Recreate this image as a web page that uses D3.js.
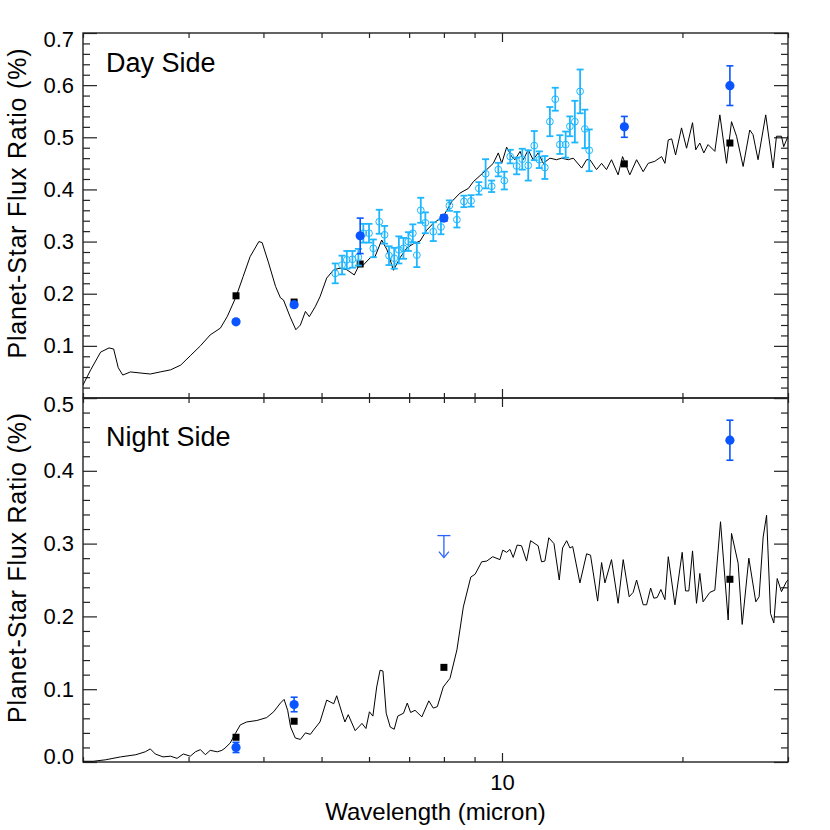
<!DOCTYPE html>
<html><head><meta charset="utf-8">
<script src="https://cdn.jsdelivr.net/npm/d3@7"></script>
<style>
body{margin:0;background:#fff}
svg{display:block;font-family:"Liberation Sans",Arial,Helvetica,sans-serif}
</style>
</head><body>
<svg id="c" width="830" height="830"></svg>
<script>
// ---------------- data ----------------
const xDomain = [2, 30];
const xMajorTicks = [10];
const xMinorTicks = [2, 3, 4, 5, 6, 7, 8, 9, 20, 30];
const xTickLabels = ["10"];

const dayYDomain = [0, 0.7];
const dayYMajor = [0, 0.1, 0.2, 0.3, 0.4, 0.5, 0.6, 0.7];
const dayYLabels = ["0.1", "0.2", "0.3", "0.4", "0.5", "0.6", "0.7"];
const nightYDomain = [0, 0.5];
const nightYMajor = [0, 0.1, 0.2, 0.3, 0.4, 0.5];
const nightYLabels = ["0.0", "0.1", "0.2", "0.3", "0.4", "0.5"];

// model spectrum, day side [wavelength micron, flux ratio %]
const dayModel = [
[2.00,0.025],[2.06,0.054],[2.14,0.088],[2.21,0.096],[2.25,0.094],[2.29,0.058],[2.33,0.044],[2.40,0.050],[2.49,0.048],[2.59,0.046],[2.69,0.050],[2.80,0.054],[2.91,0.063],[3.02,0.081],[3.14,0.100],[3.26,0.121],[3.39,0.134],[3.48,0.156],[3.60,0.194],[3.70,0.233],[3.80,0.271],[3.93,0.300],[3.98,0.298],[4.08,0.259],[4.19,0.214],[4.27,0.192],[4.32,0.188],[4.43,0.156],[4.53,0.131],[4.61,0.140],[4.70,0.166],[4.77,0.156],[4.88,0.175],[4.97,0.194],[5.10,0.230],[5.24,0.246],[5.37,0.249],[5.51,0.246],[5.67,0.236],[5.76,0.252],[5.87,0.255],[6.03,0.269],[6.14,0.271],[6.30,0.303],[6.43,0.284],[6.59,0.245],[6.76,0.269],[6.94,0.288],[7.12,0.296],[7.30,0.301],[7.49,0.322],[7.68,0.335],[7.98,0.348],[8.25,0.377],[8.51,0.393],[8.79,0.402],[8.96,0.415],[9.43,0.438],[9.67,0.450],[9.86,0.470],[9.99,0.450],[10.18,0.481],[10.38,0.463],[10.51,0.457],[10.72,0.473],[10.85,0.457],[11.06,0.476],[11.27,0.457],[11.49,0.470],[11.72,0.450],[12.02,0.460],[12.33,0.457],[12.57,0.460],[12.90,0.457],[13.15,0.460],[13.58,0.441],[13.84,0.457],[14.02,0.457],[14.38,0.438],[14.66,0.450],[14.94,0.438],[15.23,0.457],[15.62,0.428],[15.89,0.463],[16.34,0.428],[16.77,0.457],[17.20,0.434],[17.53,0.450],[17.99,0.454],[18.46,0.463],[18.70,0.450],[18.94,0.495],[19.19,0.497],[19.48,0.466],[19.93,0.518],[20.32,0.479],[20.79,0.528],[21.05,0.476],[21.38,0.489],[21.71,0.470],[22.07,0.486],[22.65,0.473],[23.09,0.543],[23.69,0.450],[24.15,0.530],[24.62,0.502],[25.25,0.444],[25.90,0.514],[26.23,0.505],[26.74,0.457],[27.54,0.543],[28.33,0.441],[28.70,0.502],[29.26,0.502],[29.51,0.482],[30.0,0.502]
];

// model spectrum, night side
const nightModel = [
[2.00,0.001],[2.08,0.001],[2.18,0.003],[2.31,0.007],[2.45,0.010],[2.54,0.014],[2.59,0.018],[2.64,0.011],[2.72,0.007],[2.80,0.008],[2.87,0.005],[2.94,0.011],[3.02,0.008],[3.08,0.014],[3.14,0.017],[3.20,0.010],[3.26,0.016],[3.35,0.014],[3.41,0.016],[3.45,0.019],[3.52,0.026],[3.59,0.039],[3.66,0.051],[3.75,0.055],[3.90,0.057],[4.05,0.061],[4.16,0.069],[4.27,0.081],[4.33,0.086],[4.39,0.071],[4.44,0.048],[4.52,0.033],[4.61,0.031],[4.70,0.040],[4.79,0.038],[4.85,0.044],[4.97,0.055],[5.10,0.085],[5.24,0.080],[5.30,0.091],[5.41,0.067],[5.47,0.055],[5.54,0.065],[5.69,0.043],[5.84,0.053],[5.93,0.046],[6.01,0.069],[6.09,0.063],[6.18,0.103],[6.26,0.126],[6.33,0.125],[6.41,0.067],[6.51,0.048],[6.61,0.045],[6.70,0.063],[6.85,0.067],[6.95,0.081],[7.04,0.068],[7.16,0.071],[7.35,0.062],[7.55,0.084],[7.68,0.074],[7.80,0.076],[7.98,0.103],[8.19,0.115],[8.41,0.154],[8.62,0.213],[8.87,0.254],[9.02,0.258],[9.25,0.275],[9.43,0.276],[9.65,0.282],[9.92,0.278],[10.03,0.291],[10.18,0.288],[10.31,0.292],[10.44,0.281],[10.60,0.298],[10.78,0.297],[10.99,0.276],[11.16,0.304],[11.49,0.297],[11.64,0.275],[11.79,0.276],[11.97,0.308],[12.21,0.300],[12.46,0.250],[12.62,0.294],[12.82,0.304],[12.98,0.294],[13.12,0.296],[13.49,0.246],[13.84,0.286],[14.05,0.284],[14.44,0.221],[14.66,0.274],[14.85,0.246],[15.23,0.278],[15.62,0.218],[15.93,0.278],[16.30,0.227],[16.55,0.233],[16.77,0.250],[17.20,0.216],[17.43,0.216],[17.70,0.239],[17.92,0.225],[18.15,0.226],[18.41,0.237],[18.70,0.223],[18.94,0.282],[19.43,0.216],[19.98,0.288],[20.24,0.235],[20.50,0.235],[20.79,0.290],[21.11,0.218],[21.38,0.259],[21.65,0.220],[22.22,0.233],[22.65,0.236],[23.15,0.330],[23.84,0.195],[24.15,0.314],[24.77,0.273],[25.16,0.189],[25.81,0.280],[26.51,0.220],[26.85,0.227],[27.27,0.309],[27.63,0.339],[28.05,0.204],[28.41,0.191],[28.78,0.252],[29.26,0.234],[29.83,0.248],[30.0,0.250]
];

// IRS spectrum (day side)
const irsWl  = [5.27,5.41,5.51,5.63,5.76,5.87,6.00,6.10,6.24,6.37,6.48,6.61,6.73,6.85,6.98,7.10,7.21,7.32,7.45,7.68,7.91,8.17,8.41,8.64,8.88,9.15,9.39,9.61,9.86,10.09,10.32,10.58,10.81,11.06,11.32,11.54,11.79,12.02,12.27,12.49,12.77,12.98,13.23,13.50,13.75,13.98];
const irsVal = [0.239,0.255,0.265,0.266,0.270,0.316,0.316,0.287,0.338,0.313,0.273,0.268,0.284,0.287,0.300,0.316,0.274,0.360,0.336,0.319,0.328,0.369,0.342,0.377,0.378,0.402,0.430,0.406,0.438,0.417,0.463,0.445,0.458,0.446,0.484,0.457,0.442,0.530,0.573,0.486,0.486,0.521,0.530,0.588,0.516,0.475];
const irsErr = [0.019,0.018,0.017,0.016,0.016,0.018,0.018,0.017,0.023,0.017,0.018,0.020,0.026,0.020,0.018,0.017,0.023,0.024,0.020,0.018,0.014,0.010,0.015,0.011,0.011,0.012,0.028,0.011,0.013,0.017,0.013,0.016,0.020,0.029,0.028,0.016,0.022,0.028,0.022,0.018,0.025,0.019,0.040,0.042,0.037,0.040];

// photometry, day side
const dayObsWl  = [3.6, 4.5, 5.8, 8.0, 16, 24];
const dayObsVal = [0.146, 0.179, 0.311, 0.345, 0.520, 0.599];
const dayObsErr = [0.003, 0.004, 0.034, 0.006, 0.020, 0.038];
const dayBandWl  = [3.6, 4.5, 5.8, 8.0, 16, 24];
const dayBandVal = [0.196, 0.184, 0.257, 0.345, 0.449, 0.489];

// photometry, night side
const nightObsWl  = [3.6, 4.5, 24];
const nightObsVal = [0.020, 0.079, 0.442];
const nightObsErr = [0.007, 0.010, 0.0275];
const nightBandWl  = [3.6, 4.5, 8.0, 24];
const nightBandVal = [0.034, 0.056, 0.130, 0.251];
const nightLimitWl  = [8.0];
const nightLimitVal = [0.311];

// ---------------- layout ----------------
const L = 83, R = 788, T1 = 33, MID = 398, B2 = 762;
const BLUE = "#0a55ff", LIGHT = "#1db6ff", AX = "#222";

const svg = d3.select("#c");
svg.append("rect").attr("width", 830).attr("height", 830).attr("fill", "#fff");

const x = d3.scaleLog().domain(xDomain).range([L, R]);
const yD = d3.scaleLinear().domain(dayYDomain).range([MID, T1]);
const yN = d3.scaleLinear().domain(nightYDomain).range([B2, MID]);

const defs = svg.append("defs");
defs.append("clipPath").attr("id", "clipD").append("rect").attr("x", L).attr("y", T1).attr("width", R - L).attr("height", MID - T1);
defs.append("clipPath").attr("id", "clipN").append("rect").attr("x", L).attr("y", MID).attr("width", R - L).attr("height", B2 - MID);

const fmt = d3.format(".1f");
function minorsOf(majors) {
  const out = [];
  for (let i = 0; i < majors.length - 1; i++)
    for (let k = 1; k < 5; k++) out.push(+(majors[i] + k * (majors[i + 1] - majors[i]) / 5).toFixed(3));
  return out;
}
function styleAxis(g) {
  g.select(".domain").remove();
  g.selectAll(".tick line").attr("stroke", AX).attr("stroke-width", 1.2);
  g.selectAll("text").attr("fill", "#000").attr("font-size", 22).attr("font-family", '"Liberation Sans",Arial,sans-serif');
}

function panel(y, top, bottom, majors, labels, edgeShift) {
  const minors = minorsOf(majors);
  // left
  svg.append("g").attr("transform", `translate(${L},0)`)
    .call(d3.axisLeft(y).tickValues(majors).tickSizeInner(-14).tickSizeOuter(0).tickPadding(9)
      .tickFormat(d => labels.includes(fmt(d)) ? fmt(d) : ""))
    .call(styleAxis)
    .call(g => g.selectAll(".tick text").attr("dy", function(d) { return (0.32 * 22 + (edgeShift[fmt(d)] || 0)) + "px"; }));
  svg.append("g").attr("transform", `translate(${L},0)`)
    .call(d3.axisLeft(y).tickValues(minors).tickSizeInner(-7).tickSizeOuter(0).tickFormat(""))
    .call(styleAxis);
  // right
  svg.append("g").attr("transform", `translate(${R},0)`)
    .call(d3.axisRight(y).tickValues(majors).tickSizeInner(-14).tickSizeOuter(0).tickFormat(""))
    .call(styleAxis);
  svg.append("g").attr("transform", `translate(${R},0)`)
    .call(d3.axisRight(y).tickValues(minors).tickSizeInner(-7).tickSizeOuter(0).tickFormat(""))
    .call(styleAxis);
  // top (ticks down) & bottom (ticks up)
  svg.append("g").attr("transform", `translate(0,${top})`)
    .call(d3.axisTop(x).tickValues(xMajorTicks).tickSizeInner(-9).tickSizeOuter(0).tickFormat(""))
    .call(styleAxis);
  svg.append("g").attr("transform", `translate(0,${top})`)
    .call(d3.axisTop(x).tickValues(xMinorTicks).tickSizeInner(-5).tickSizeOuter(0).tickFormat(""))
    .call(styleAxis);
  svg.append("g").attr("transform", `translate(0,${bottom})`)
    .call(d3.axisBottom(x).tickValues(xMajorTicks).tickSizeInner(-9).tickSizeOuter(0).tickPadding(12)
      .tickFormat(d => bottom === B2 ? xTickLabels[xMajorTicks.indexOf(d)] : ""))
    .call(styleAxis);
  svg.append("g").attr("transform", `translate(0,${bottom})`)
    .call(d3.axisBottom(x).tickValues(xMinorTicks).tickSizeInner(-5).tickSizeOuter(0).tickFormat(""))
    .call(styleAxis);
  // frame
  svg.append("rect").attr("x", L).attr("y", top).attr("width", R - L).attr("height", bottom - top)
    .attr("fill", "none").attr("stroke", AX).attr("stroke-width", 1.4);
}

panel(yD, T1, MID, dayYMajor, dayYLabels, {"0.7": 6});
panel(yN, MID, B2, nightYMajor, nightYLabels, {"0.5": 6, "0.0": -6});

// ---------------- model lines ----------------
const lineD = d3.line().x(d => x(d[0])).y(d => yD(d[1]));
const lineN = d3.line().x(d => x(d[0])).y(d => yN(d[1]));
svg.append("path").attr("d", lineD(dayModel)).attr("clip-path", "url(#clipD)")
  .attr("fill", "none").attr("stroke", "#000").attr("stroke-width", 1);
svg.append("path").attr("d", lineN(nightModel)).attr("clip-path", "url(#clipN)")
  .attr("fill", "none").attr("stroke", "#000").attr("stroke-width", 1);

// ---------------- helpers ----------------
function errBars(g, wl, val, err, y, color, cap, sw) {
  wl.forEach((w, i) => {
    const cx = x(w), y0 = y(val[i] - err[i]), y1 = y(val[i] + err[i]);
    g.append("line").attr("x1", cx).attr("x2", cx).attr("y1", y0).attr("y2", y1).attr("stroke", color).attr("stroke-width", sw);
    [y0, y1].forEach(yy => g.append("line").attr("x1", cx - cap).attr("x2", cx + cap).attr("y1", yy).attr("y2", yy).attr("stroke", color).attr("stroke-width", sw));
  });
}
function squares(g, wl, val, y) {
  g.selectAll(null).data(wl).enter().append("rect")
    .attr("x", (d) => x(d) - 3.5).attr("y", (d, i) => y(val[i]) - 3.5)
    .attr("width", 7).attr("height", 7).attr("fill", "#000");
}
function dots(g, wl, val, y) {
  g.selectAll(null).data(wl).enter().append("circle")
    .attr("cx", d => x(d)).attr("cy", (d, i) => y(val[i])).attr("r", 4.6).attr("fill", BLUE);
}

// ---------------- day side ----------------
const gD = svg.append("g");
squares(gD, dayBandWl, dayBandVal, yD);
errBars(gD, irsWl, irsVal, irsErr, yD, LIGHT, 3.5, 1.8);
gD.selectAll(null).data(irsWl).enter().append("circle")
  .attr("cx", d => x(d)).attr("cy", (d, i) => yD(irsVal[i])).attr("r", 3.4)
  .attr("fill", "none").attr("stroke", LIGHT).attr("stroke-width", 1);
errBars(gD, dayObsWl, dayObsVal, dayObsErr, yD, BLUE, 3.5, 1.6);
dots(gD, dayObsWl, dayObsVal, yD);

// ---------------- night side ----------------
const gN = svg.append("g");
squares(gN, nightBandWl, nightBandVal, yN);
errBars(gN, nightObsWl, nightObsVal, nightObsErr, yN, BLUE, 3.5, 1.6);
dots(gN, nightObsWl, nightObsVal, yN);
nightLimitWl.forEach((w, i) => {
  const cx = x(w), yy = yN(nightLimitVal[i]), len = 22;
  const s = { stroke: "#2a62ff", "stroke-width": 1.3, fill: "none" };
  const add = (el) => { Object.entries(s).forEach(([k, v]) => el.attr(k, v)); return el; };
  add(gN.append("line").attr("x1", cx - 6.5).attr("x2", cx + 6.5).attr("y1", yy).attr("y2", yy));
  add(gN.append("line").attr("x1", cx).attr("x2", cx).attr("y1", yy).attr("y2", yy + len));
  add(gN.append("path").attr("d", `M${cx - 5},${yy + len - 6}L${cx},${yy + len}L${cx + 5},${yy + len - 6}`));
});

// ---------------- text ----------------
svg.append("text").attr("x", 106).attr("y", 72).attr("font-size", 27).text("Day Side");
svg.append("text").attr("x", 106).attr("y", 446).attr("font-size", 27).text("Night Side");
svg.append("text").attr("x", (L + R) / 2).attr("y", 820).attr("text-anchor", "middle")
  .attr("font-size", 24).text("Wavelength (micron)");
[[T1, MID], [MID, B2]].forEach(([a, b]) => {
  svg.append("text").attr("transform", `translate(26,${(a + b) / 2 - 12}) rotate(-90)`)
    .attr("text-anchor", "middle").attr("font-size", 25)
    .attr("textLength", 310).attr("lengthAdjust", "spacing")
    .text("Planet-Star Flux Ratio (%)");
});
</script>
</body></html>
